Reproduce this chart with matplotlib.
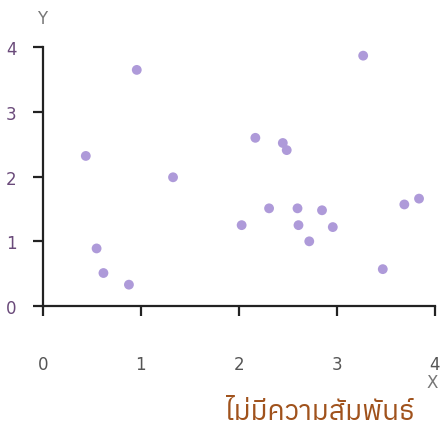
import matplotlib
matplotlib.use("Agg")
import matplotlib.pyplot as plt
from matplotlib import font_manager
from matplotlib.ft2font import FT2Font

# points
x_vals = [0.96, 0.44, 1.33, 0.55, 0.62, 0.88, 3.27, 2.17, 2.45, 2.49,
          2.03, 2.31, 2.60, 2.85, 2.61, 2.96, 2.72, 3.69, 3.84, 3.47]
y_vals = [3.65, 2.32, 1.99, 0.89, 0.51, 0.33, 3.87, 2.60, 2.52, 2.41,
          1.25, 1.51, 1.51, 1.48, 1.25, 1.22, 1.00, 1.57, 1.66, 0.57]
ticks = [0, 1, 2, 3, 4]
caption = "ไม่มีความสัมพันธ์"

# look for any installed family that has Thai letters
thai_fams = []
for path in font_manager.findSystemFonts():
    try:
        cmap = FT2Font(path).get_charmap()
    except Exception:
        continue
    if 0x0E44 in cmap and 0x0E21 in cmap:
        thai_fams.append(font_manager.FontProperties(fname=path).get_name())

fig = plt.figure(figsize=(4.4, 4.27), dpi=100)
ax = fig.add_axes([0.097, 0.281, 0.891, 0.606])

ax.scatter(x_vals, y_vals, s=50, color="#ae9ad9", edgecolors="none", zorder=3)

ax.set_xlim(0, 4)
ax.set_ylim(0, 4)
ax.set_xticks(ticks)
ax.set_yticks(ticks)
ax.spines["top"].set_visible(False)
ax.spines["right"].set_visible(False)
for s in ("left", "bottom"):
    ax.spines[s].set_linewidth(1.6)
    ax.spines[s].set_color("#222222")
ax.tick_params(axis="both", length=7, width=1.6, color="#222222", labelsize=12)
ax.tick_params(axis="x", pad=28, labelcolor="#555555")
ax.tick_params(axis="y", pad=12, labelcolor="#6a4a7a")

fig.text(0.095, 0.955, "Y", fontsize=12, color="#777777", ha="center", va="center")
fig.text(0.982, 0.103, "X", fontsize=12, color="#777777", ha="center", va="center")
fams = sorted(set(thai_fams))[:1] + ["DejaVu Sans"]
fig.text(0.727, 0.035, caption, fontsize=20, color="#a0521c", ha="center", va="center",
         family=fams)

fig.savefig("out.png", dpi=100)
